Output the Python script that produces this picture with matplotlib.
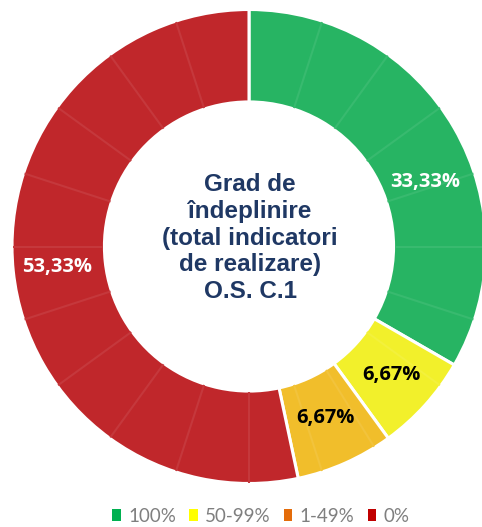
import matplotlib
matplotlib.use("Agg")
import matplotlib.pyplot as plt
import numpy as np
from matplotlib.patches import Patch
import matplotlib.colors as mcolors

categories = ["100%", "50-99%", "1-49%", "0%"]
values = [33.33, 6.67, 6.67, 53.33]
labels = ["33,33%", "6,67%", "6,67%", "53,33%"]
wedge_colors = ["#27B463", "#F2F02B", "#F1BE2B", "#C0272B"]
legend_colors = ["#00B050", "#FFFF00", "#E46C0A", "#C00000"]
label_colors = ["white", "black", "black", "white"]
title = "Grad de\nîndeplinire\n(total indicatori\nde realizare)\nO.S. C.1"

W, H = 482, 527
fig = plt.figure(figsize=(W / 100, H / 100), dpi=100)
ax = fig.add_axes([0, 0, 1, 1])

cx, cy, R = 249, H - 246.5, 237
width = 0.39

wedges, _ = ax.pie(values, colors=wedge_colors, startangle=90, counterclock=False,
                   center=(cx, cy), radius=R,
                   wedgeprops=dict(width=R * width, edgecolor="white", linewidth=2.2))
for w in wedges:
    w.set_zorder(2)

# subtle texture lines every 18 degrees
total = sum(values)
bounds = np.cumsum([0] + values) / total * 360
for k in range(1, 20):
    a = k * 18
    if np.min(np.abs(bounds - a)) < 2:
        a += 4
    idx = np.searchsorted(bounds, a, side="right") - 1
    idx = min(idx, len(values) - 1)
    base = np.array(mcolors.to_rgb(wedge_colors[idx]))
    col = base + (1 - base) * 0.08
    th = np.deg2rad(90 - a)
    r0, r1 = R * (1 - width) + 1, R - 1
    ax.plot([cx + r0 * np.cos(th), cx + r1 * np.cos(th)],
            [cy + r0 * np.sin(th), cy + r1 * np.sin(th)], color=col, lw=1.5,
            solid_capstyle="butt", zorder=2.5)

# labels
label_angle_offsets = [10, 0, 0, 0]
label_r = [0.79, 0.81, 0.79, 0.815]
for i, v in enumerate(values):
    mid = (bounds[i] + bounds[i + 1]) / 2 + label_angle_offsets[i]
    th = np.deg2rad(90 - mid)
    r = R * label_r[i]
    ax.text(cx + r * np.cos(th), cy + r * np.sin(th), labels[i], color=label_colors[i],
            ha="center", va="center", fontsize=14.5, fontweight="bold",
            family="Open Sans", zorder=5)

ax.text(cx + 1, H - 238, title, ha="center", va="center", fontsize=17.5,
        fontweight="bold", color="#1F3864", family="Liberation Sans",
        linespacing=1.2, zorder=5)

ax.set_xlim(0, W)
ax.set_ylim(0, H)
ax.set_aspect("equal")
ax.axis("off")

handles = [Patch(facecolor=c, edgecolor="none") for c in legend_colors]
leg = fig.legend(handles, categories, loc="center", bbox_to_anchor=(261 / W, 1 - 516 / H),
                 ncol=4, frameon=False, handlelength=0.45, handleheight=0.55,
                 handletextpad=0.4, columnspacing=0.7,
                 prop={"family": "Lato", "size": 13.5})
for t in leg.get_texts():
    t.set_color("#7F7F7F")

fig.savefig("out.png", dpi=100)
